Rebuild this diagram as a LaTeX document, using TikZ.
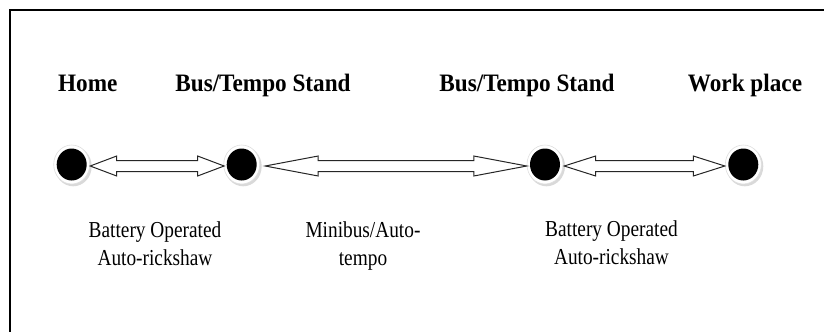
\documentclass[tikz,border=0pt]{standalone}
\usepackage{fontspec}
\setmainfont{Liberation Serif}
\usetikzlibrary{calc}
\usetikzlibrary{shapes.geometric}
\tikzset{
  place/.style={font=\fontsize{23.3}{28}\selectfont\bfseries, anchor=base, inner sep=0pt, yscale=1.08, transform shape},
  mode/.style={font=\fontsize{19.4}{23.3}\selectfont, align=center, anchor=base, inner sep=0pt, yscale=1.18, transform shape},
  dot/.style={ellipse, fill=black, inner sep=0pt, minimum width=30bp, minimum height=32bp},
  halo/.style={fill=white, draw=gray!25, line width=0.6bp},
  haloshadow/.style={fill=gray!30},
  blockarrow/.style={draw=black!85, fill=white, line width=1bp, line join=miter},
  frame/.style={draw=black, line width=2bp}
}
\newcommand\stopdot[3]{%
  \fill[haloshadow] (#2+1.5,#3+1.8) ellipse[x radius=18.5bp, y radius=20bp];
  \fill[halo] (#2,#3) ellipse[x radius=18bp, y radius=19.5bp];
  \node[dot] (#1) at (#2,#3) {};
}
\newcommand\dblarrow[3]{%
  \draw[blockarrow] let \p1=(#1), \p2=(#2) in
    (\x1,\y1) -- (\x1+#3bp,\y1+10bp) -- (\x1+#3bp,\y1+5.5bp) -- (\x2-#3bp,\y1+5.5bp)
    -- (\x2-#3bp,\y1+10bp) -- (\x2,\y1) -- (\x2-#3bp,\y1-10bp) -- (\x2-#3bp,\y1-5.5bp)
    -- (\x1+#3bp,\y1-5.5bp) -- (\x1+#3bp,\y1-10bp) -- cycle;
}
\begin{document}
\begin{tikzpicture}[x=1bp, y=-1bp]
\useasboundingbox (0,0) rectangle (824,332);
\draw[frame] (824,10) -- (10,10) -- (10,332);

\stopdot{c1}{71.7}{164.5}
\stopdot{c2}{241.7}{164.5}
\stopdot{c3}{545}{164.5}
\stopdot{c4}{743.3}{164.5}

\coordinate (a1l) at ([xshift=3.3bp, yshift=-1.5bp]c1.east);
\coordinate (a1r) at ([xshift=-2.4bp, yshift=-1.5bp]c2.west);
\coordinate (a2l) at ([xshift=8.3bp, yshift=-1.5bp]c2.east);
\coordinate (a2r) at ([xshift=-3bp, yshift=-1.5bp]c3.west);
\coordinate (a3l) at ([xshift=4bp, yshift=-1.5bp]c3.east);
\coordinate (a3r) at ([xshift=-3.3bp, yshift=-1.5bp]c4.west);

\dblarrow{a1l}{a1r}{26.5}
\dblarrow{a2l}{a2r}{53}
\dblarrow{a3l}{a3r}{31.5}

\node[place] (t1) at (87.8,91.7) {Home};
\node[place] (t2) at (263,91.7) {Bus/Tempo Stand};
\node[place] (t3) at (527,91.7) {Bus/Tempo Stand};
\node[place] (t4) at (745,91.7) {Work place};

\node[mode] (m1) at (155,265) {Battery Operated\\Auto-rickshaw};
\node[mode] (m2) at (363,265) {Minibus/Auto-\\tempo};
\node[mode] (m3) at (611.5,264) {Battery Operated\\Auto-rickshaw};
\end{tikzpicture}
\end{document}
